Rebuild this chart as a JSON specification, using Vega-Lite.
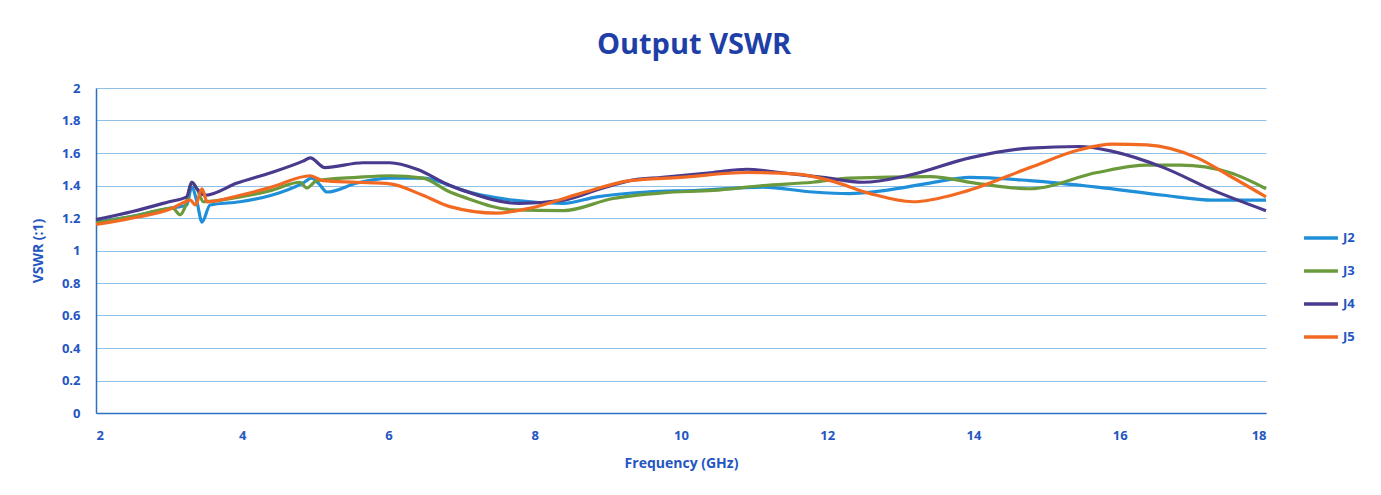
{
"$schema": "https://vega.github.io/schema/vega-lite/v6.json",
"width": 1170, "height": 325,
"autosize": {"type": "none"},
"padding": {"left": 96, "top": 88, "right": 115, "bottom": 82},
"background": "white",
"title": {"text": "Output VSWR", "fontSize": 29, "font": "Open Sans", "fontWeight": "bold", "color": "#1f3fa8", "offset": 22, "anchor": "middle", "dx": 13},
"config": {"view": {"stroke": null}, "font": "Open Sans"},
"data": {"values": [
{"f":2.0,"v":1.175,"s":"J2"},{"f":2.5,"v":1.21,"s":"J2"},{"f":3.0,"v":1.26,"s":"J2"},{"f":3.24,"v":1.28,"s":"J2"},{"f":3.31,"v":1.39,"s":"J2"},{"f":3.38,"v":1.3,"s":"J2"},{"f":3.45,"v":1.175,"s":"J2"},{"f":3.56,"v":1.28,"s":"J2"},{"f":3.97,"v":1.3,"s":"J2"},{"f":4.4,"v":1.34,"s":"J2"},{"f":4.83,"v":1.415,"s":"J2"},{"f":4.95,"v":1.445,"s":"J2"},{"f":5.05,"v":1.41,"s":"J2"},{"f":5.16,"v":1.36,"s":"J2"},{"f":5.57,"v":1.415,"s":"J2"},{"f":6.02,"v":1.445,"s":"J2"},{"f":6.47,"v":1.445,"s":"J2"},{"f":6.84,"v":1.4,"s":"J2"},{"f":7.02,"v":1.37,"s":"J2"},{"f":7.7,"v":1.31,"s":"J2"},{"f":8.39,"v":1.29,"s":"J2"},{"f":8.85,"v":1.33,"s":"J2"},{"f":9.53,"v":1.36,"s":"J2"},{"f":10.22,"v":1.37,"s":"J2"},{"f":11.12,"v":1.39,"s":"J2"},{"f":11.8,"v":1.36,"s":"J2"},{"f":12.3,"v":1.35,"s":"J2"},{"f":12.8,"v":1.37,"s":"J2"},{"f":13.4,"v":1.415,"s":"J2"},{"f":13.95,"v":1.45,"s":"J2"},{"f":14.77,"v":1.43,"s":"J2"},{"f":15.69,"v":1.39,"s":"J2"},{"f":16.6,"v":1.34,"s":"J2"},{"f":17.28,"v":1.31,"s":"J2"},{"f":18.0,"v":1.31,"s":"J2"},
{"f":2.0,"v":1.17,"s":"J3"},{"f":2.5,"v":1.21,"s":"J3"},{"f":3.05,"v":1.26,"s":"J3"},{"f":3.15,"v":1.22,"s":"J3"},{"f":3.22,"v":1.27,"s":"J3"},{"f":3.31,"v":1.42,"s":"J3"},{"f":3.38,"v":1.38,"s":"J3"},{"f":3.47,"v":1.3,"s":"J3"},{"f":3.97,"v":1.33,"s":"J3"},{"f":4.4,"v":1.37,"s":"J3"},{"f":4.79,"v":1.42,"s":"J3"},{"f":4.88,"v":1.385,"s":"J3"},{"f":5.02,"v":1.43,"s":"J3"},{"f":5.57,"v":1.45,"s":"J3"},{"f":6.02,"v":1.46,"s":"J3"},{"f":6.47,"v":1.445,"s":"J3"},{"f":6.84,"v":1.36,"s":"J3"},{"f":7.02,"v":1.33,"s":"J3"},{"f":7.7,"v":1.25,"s":"J3"},{"f":8.39,"v":1.245,"s":"J3"},{"f":9.07,"v":1.32,"s":"J3"},{"f":9.75,"v":1.355,"s":"J3"},{"f":10.44,"v":1.37,"s":"J3"},{"f":11.12,"v":1.4,"s":"J3"},{"f":11.8,"v":1.42,"s":"J3"},{"f":12.3,"v":1.445,"s":"J3"},{"f":13.4,"v":1.455,"s":"J3"},{"f":14.09,"v":1.41,"s":"J3"},{"f":14.77,"v":1.38,"s":"J3"},{"f":15.69,"v":1.48,"s":"J3"},{"f":16.37,"v":1.525,"s":"J3"},{"f":16.83,"v":1.525,"s":"J3"},{"f":17.5,"v":1.48,"s":"J3"},{"f":18.0,"v":1.38,"s":"J3"},
{"f":2.0,"v":1.19,"s":"J4"},{"f":2.5,"v":1.24,"s":"J4"},{"f":3.0,"v":1.3,"s":"J4"},{"f":3.24,"v":1.33,"s":"J4"},{"f":3.31,"v":1.42,"s":"J4"},{"f":3.38,"v":1.38,"s":"J4"},{"f":3.49,"v":1.34,"s":"J4"},{"f":3.93,"v":1.415,"s":"J4"},{"f":4.4,"v":1.48,"s":"J4"},{"f":4.83,"v":1.55,"s":"J4"},{"f":4.93,"v":1.57,"s":"J4"},{"f":5.13,"v":1.51,"s":"J4"},{"f":5.65,"v":1.54,"s":"J4"},{"f":6.02,"v":1.54,"s":"J4"},{"f":6.39,"v":1.5,"s":"J4"},{"f":6.84,"v":1.4,"s":"J4"},{"f":7.02,"v":1.37,"s":"J4"},{"f":7.8,"v":1.29,"s":"J4"},{"f":8.4,"v":1.31,"s":"J4"},{"f":8.9,"v":1.38,"s":"J4"},{"f":9.3,"v":1.43,"s":"J4"},{"f":9.75,"v":1.45,"s":"J4"},{"f":10.44,"v":1.48,"s":"J4"},{"f":10.9,"v":1.5,"s":"J4"},{"f":11.35,"v":1.48,"s":"J4"},{"f":11.94,"v":1.45,"s":"J4"},{"f":12.49,"v":1.42,"s":"J4"},{"f":13.09,"v":1.46,"s":"J4"},{"f":13.95,"v":1.57,"s":"J4"},{"f":14.77,"v":1.63,"s":"J4"},{"f":15.45,"v":1.64,"s":"J4"},{"f":15.9,"v":1.61,"s":"J4"},{"f":16.6,"v":1.51,"s":"J4"},{"f":17.28,"v":1.37,"s":"J4"},{"f":18.0,"v":1.245,"s":"J4"},
{"f":2.0,"v":1.16,"s":"J5"},{"f":2.5,"v":1.2,"s":"J5"},{"f":3.04,"v":1.26,"s":"J5"},{"f":3.22,"v":1.3,"s":"J5"},{"f":3.29,"v":1.31,"s":"J5"},{"f":3.36,"v":1.28,"s":"J5"},{"f":3.45,"v":1.38,"s":"J5"},{"f":3.52,"v":1.3,"s":"J5"},{"f":3.97,"v":1.34,"s":"J5"},{"f":4.4,"v":1.39,"s":"J5"},{"f":4.93,"v":1.46,"s":"J5"},{"f":5.1,"v":1.43,"s":"J5"},{"f":5.57,"v":1.42,"s":"J5"},{"f":6.02,"v":1.41,"s":"J5"},{"f":6.47,"v":1.34,"s":"J5"},{"f":6.84,"v":1.27,"s":"J5"},{"f":7.48,"v":1.23,"s":"J5"},{"f":7.93,"v":1.26,"s":"J5"},{"f":8.62,"v":1.35,"s":"J5"},{"f":9.3,"v":1.43,"s":"J5"},{"f":9.99,"v":1.45,"s":"J5"},{"f":10.9,"v":1.48,"s":"J5"},{"f":11.59,"v":1.47,"s":"J5"},{"f":12.04,"v":1.43,"s":"J5"},{"f":12.59,"v":1.35,"s":"J5"},{"f":13.17,"v":1.3,"s":"J5"},{"f":13.86,"v":1.36,"s":"J5"},{"f":14.77,"v":1.51,"s":"J5"},{"f":15.45,"v":1.62,"s":"J5"},{"f":15.9,"v":1.655,"s":"J5"},{"f":16.37,"v":1.65,"s":"J5"},{"f":17.06,"v":1.57,"s":"J5"},{"f":17.5,"v":1.46,"s":"J5"},{"f":18.0,"v":1.33,"s":"J5"}
]},
"mark": {"type": "line", "interpolate": "monotone", "strokeWidth": 3.2},
"encoding": {
"x": {"field": "f", "type": "quantitative", "scale": {"domain": [2, 18], "nice": false, "zero": false},
"axis": {"values": [2,4,6,8,10,12,14,16,18], "grid": false, "ticks": false, "domainColor": "#2f6fc0", "domainWidth": 1.5, "labelColor": "#2456c2", "labelFont": "Open Sans", "labelFontWeight": "bold", "labelFontSize": 13, "labelPadding": 16, "title": "Frequency (GHz)", "titleColor": "#2456c2", "titleFont": "Open Sans", "titleFontSize": 14, "titleFontWeight": "bold", "titlePadding": 14}},
"y": {"field": "v", "type": "quantitative", "scale": {"domain": [0, 2], "nice": false},
"axis": {"values": [0,0.2,0.4,0.6,0.8,1,1.2,1.4,1.6,1.8,2], "format": "~g", "grid": true, "gridColor": "#8fc0e8", "gridWidth": 1, "ticks": false, "domainColor": "#2f6fc0", "domainWidth": 1.5, "labelColor": "#2456c2", "labelFont": "Open Sans", "labelFontWeight": "bold", "labelFontSize": 13, "labelPadding": 16, "title": "VSWR (:1)", "titleColor": "#2456c2", "titleFont": "Open Sans", "titleFontSize": 14, "titleFontWeight": "bold", "titlePadding": 16}},
"color": {"field": "s", "type": "nominal", "scale": {"domain": ["J2","J3","J4","J5"], "range": ["#1e8fd8","#6b9a3c","#4a3a8e","#f26a22"]},
"legend": {"title": null, "orient": "none", "legendX": 1206, "legendY": 131, "symbolType": "stroke", "symbolStrokeWidth": 3.5, "symbolSize": 1150, "rowPadding": 7, "labelColor": "#2456c2", "labelFont": "Open Sans", "labelFontWeight": "bold", "labelFontSize": 13, "labelOffset": 3}}
}
}
